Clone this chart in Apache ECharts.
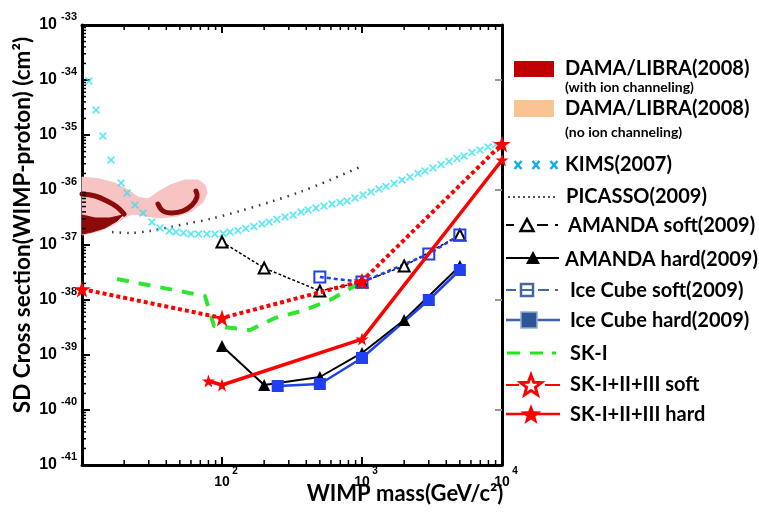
<!DOCTYPE html>
<html><head><meta charset="utf-8">
<script src="https://cdn.jsdelivr.net/npm/echarts@6/dist/echarts.min.js"></script>
<style>html,body{margin:0;padding:0;background:#fff}#c{width:759px;height:527px}</style>
</head><body><div id="c"></div><script>
// ---------- data (mass in GeV, cross section in cm^2) ----------
const X_MIN = 10, X_MAX = 10000;
// axis range 1e-41 .. 1e-33 (a hair wider so both end decades are regular ticks)
const Y_MIN = 0.99999e-41, Y_MAX = 1.00001e-33;

const kimsMass = [11.2,12.6,14.1,16.1,19.0,21.0,23.9,27.3,31.6,36.1,
  42,47,53,60,68,78,89,102,114,130,148,169,193,217,247,282,322,367,412,469,535,611,697,782,891,
  1017,1160,1323,1484,1693,1931,2202,2512,2818,3215,3667,4183,4771,5354,6107,6966,7943,9060];
const kimsSigma = [9.6e-35,2.85e-35,9.6e-36,3.51e-36,1.34e-36,8.82e-37,5.34e-37,3.82e-37,2.62e-37,2.04e-37,
  1.8e-37,1.72e-37,1.65e-37,1.585e-37,1.585e-37,1.585e-37,1.585e-37,1.62e-37,1.72e-37,1.835e-37,1.995e-37,2.17e-37,2.41e-37,2.62e-37,2.91e-37,3.23e-37,3.51e-37,3.98e-37,4.33e-37,4.71e-37,5.12e-37,5.57e-37,5.93e-37,6.31e-37,7.16e-37,
  8.11e-37,9.2e-37,1.043e-36,1.158e-36,1.313e-36,1.52e-36,1.723e-36,1.995e-36,2.215e-36,2.512e-36,2.91e-36,3.30e-36,3.74e-36,4.15e-36,4.81e-36,5.34e-36,6.05e-36,6.72e-36];

const picassoMass  = [16.4,22.0,30.6,42.5,59.1,82.1,134.5,220,361,591,967];
const picassoSigma = [1.72e-37,1.65e-37,1.80e-37,2.12e-37,2.51e-37,2.97e-37,4.15e-37,6.05e-37,9.2e-37,1.52e-36,2.62e-36];

const skIMass  = [17.8,75.6,87.7,158.5,239,391.6,591,967];
const skISigma = [2.41e-38,1.18e-38,3.37e-39,2.85e-39,4.71e-39,6.58e-39,1e-38,2.04e-38];

const amandaSoftMass  = [100,200,500,1000,2000,5000];
const amandaSoftSigma = [1.135e-37,3.82e-38,1.46e-38,2.12e-38,4.15e-38,1.52e-37];

const amandaHardMass  = [100,200,500,1000,2000,5000];
const amandaHardSigma = [1.46e-39,2.85e-40,3.98e-40,1.09e-39,4.33e-39,4.15e-38];

const iceSoftMass  = [500,1000,3000,5000];
const iceSoftSigma = [2.62e-38,2.12e-38,6.86e-38,1.52e-37];

const iceHardMass  = [250,500,1000,3000,5000];
const iceHardSigma = [2.73e-40,2.97e-40,8.82e-40,1e-38,3.51e-38];

const skSoftMass  = [10,100,1000,10000];
const skSoftSigma = [1.58e-38,4.71e-39,2.2e-38,6.86e-36];

const skHardMass  = [80,100,1000,10000];
const skHardSigma = [3.37e-40,2.85e-40,1.95e-39,3.51e-36];

// DAMA/LIBRA regions
const damaNoChanMass  = [10,13.4,17.2,21.3,25.1,29.6,34.9,42.5,54.4,67.4,75.6,78.2,73.2,61.1,48.5,36.1,28.2,23.1,20.3,17.2,13.4,10];
const damaNoChanSigma = [1.72e-36,1.58e-36,1.34e-36,1.0e-36,7.46e-37,6.86e-37,9.2e-37,1.23e-36,1.52e-36,1.52e-36,1.23e-36,8.82e-37,6.05e-37,4.15e-37,3.37e-37,3.10e-37,3.37e-37,3.66e-37,3.23e-37,2.41e-37,1.80e-37,1.52e-37];
const damaArcMass   = [10,12.4,15.1,17.8,20.0];
const damaArcSigma  = [8.46e-37,7.78e-37,6.31e-37,4.91e-37,3.66e-37];
const damaLowMass   = [10,12.4,15.8,19.6,17.8,14.6,11.8,10];
const damaLowSigma  = [3.51e-37,3.10e-37,3.10e-37,3.51e-37,2.73e-37,2.04e-37,1.72e-37,1.58e-37];
const damaRingMass  = [34.9,37.9,43.9,52.6,61.1,66.3,65.2];
const damaRingSigma = [5.57e-37,4.15e-37,3.82e-37,4.15e-37,5.34e-37,7.46e-37,9.6e-37];

// axis ticks and labels
const xMajorTicks = [10,100,1000,10000];
const xTickLabels = [100,1000,10000];
const xMinorTicks = [20,30,40,50,60,70,80,90,200,300,400,500,600,700,800,900,2000,3000,4000,5000,6000,7000,8000,9000];
const yDecades = [1e-41,1e-40,1e-39,1e-38,1e-37,1e-36,1e-35,1e-34];
const yMinorMult = [2,3,4,5,6,7,8,9];

// ---------- helpers ----------
const zip = (a, b) => a.map((v, i) => [v, b[i]]);
const expOf = v => Math.round(Math.log10(v));
const STAR = 'path://M50,0L61.8,35.1L98.1,35.1L68.8,56.7L79.4,91L50,70L20.6,91L31.2,56.7L1.9,35.1L38.2,35.1Z';
const XMARK = 'path://M0,1.5L1.5,0L5,3.5L8.5,0L10,1.5L6.5,5L10,8.5L8.5,10L5,6.5L1.5,10L0,8.5L3.5,5Z';

function regionSeries(name, mass, sigma, kind, color, width, z) {
  return {
    type: 'custom', name, coordinateSystem: 'cartesian2d', z, silent: true,
    data: [[mass[0], sigma[0]]],
    renderItem: (params, api) => {
      const pts = mass.map((m, i) => api.coord([m, sigma[i]]));
      if (kind === 'polygon') {
        return { type: 'polygon', shape: { points: pts }, style: { fill: color, stroke: color, lineWidth: 1 } };
      }
      return { type: 'polyline', shape: { points: pts, smooth: 0.4 }, style: { stroke: color, lineWidth: width, fill: null, lineCap: 'round' } };
    }
  };
}

const yMinorTicks = [];
yDecades.forEach(d => yMinorMult.forEach(k => yMinorTicks.push(k * d)));

function starPts(cx, cy, R) {
  const p = [];
  for (let i = 0; i < 10; i++) {
    const r = i % 2 ? R * 0.42 : R, a = -Math.PI / 2 + i * Math.PI / 5;
    p.push([cx + r * Math.cos(a), cy + r * Math.sin(a)]);
  }
  return p;
}
function seg(x1, y1, x2, y2, stroke, lineWidth, dash) {
  return { type: 'line', shape: { x1, y1, x2, y2 }, style: { stroke, lineWidth, lineDash: dash || null } };
}
function txt(x, y, text, size) {
  return { type: 'text', x, y, style: { text, font: 'bold ' + size + 'px Lato', fill: '#000',
    align: 'left', verticalAlign: 'middle', textAlign: 'left', textVerticalAlign: 'middle' } };
}

const LF = 20, SF = 14;
const legend = [
  { type: 'rect', shape: { x: 514, y: 61, width: 40, height: 16 }, style: { fill: '#C00000' } },
  txt(565, 69, 'DAMA/LIBRA(2008)', LF), txt(565, 87, '(with ion channeling)', SF),
  { type: 'rect', shape: { x: 514, y: 100, width: 40, height: 17 }, style: { fill: '#F9C393' } },
  txt(565, 109, 'DAMA/LIBRA(2008)', LF), txt(565, 132, '(no ion channeling)', SF),
  txt(565, 165, 'KIMS(2007)', LF),
  txt(566, 197, 'PICASSO(2009)', LF),
  txt(568, 226, 'AMANDA soft(2009)', LF),
  txt(565, 260, 'AMANDA hard(2009)', LF),
  txt(570, 291, 'Ice Cube soft(2009)', LF),
  txt(570, 321, 'Ice Cube hard(2009)', LF),
  txt(570, 354, 'SK-I', LF),
  txt(570, 385, 'SK-I+II+III soft', LF),
  txt(570, 415, 'SK-I+II+III hard', LF),
  ...[518, 536, 554].flatMap(cx => [seg(cx - 3.5, 161, cx + 3.5, 169, '#12AEE6', 2.5), seg(cx + 3.5, 161, cx - 3.5, 169, '#12AEE6', 2.5)]),
  seg(508, 197, 556, 197, '#555', 2, [2, 3]),
  seg(506, 225, 514, 225, '#000', 2), seg(537, 225, 548, 225, '#000', 2), seg(555, 225, 558, 225, '#000', 2),
  { type: 'polygon', shape: { points: [[527, 219], [533.5, 231], [520.5, 231]] }, style: { fill: '#fff', stroke: '#000', lineWidth: 2.5 } },
  seg(506, 258, 559, 258, '#000', 2),
  { type: 'polygon', shape: { points: [[533, 251], [540, 264], [526, 264]] }, style: { fill: '#000' } },
  seg(506, 290, 516, 290, '#44679F', 2), seg(520, 290, 534, 290, '#44679F', 2), seg(538, 290, 549, 290, '#44679F', 2), seg(555, 290, 558, 290, '#44679F', 2),
  { type: 'rect', shape: { x: 521, y: 284, width: 12, height: 12 }, style: { fill: 'none', stroke: '#44679F', lineWidth: 2.5 } },
  seg(506, 320, 560, 320, '#3D63A8', 2.5),
  { type: 'rect', shape: { x: 521, y: 312, width: 16, height: 16 }, style: { fill: '#2F5597', stroke: '#8FAADC', lineWidth: 1.5 } },
  seg(507, 353, 520, 353, '#1EE61E', 3), seg(530, 353, 543, 353, '#1EE61E', 3), seg(552, 353, 556, 353, '#1EE61E', 3),
  seg(506, 385, 519, 385, '#FF0000', 2), seg(545, 385, 560, 385, '#FF0000', 2),
  { type: 'polygon', shape: { points: starPts(531, 386, 11) }, style: { fill: '#fff', stroke: '#FF0000', lineWidth: 3 } },
  seg(506, 414, 560, 414, '#FF0000', 2.5),
  { type: 'polygon', shape: { points: starPts(531, 415, 11) }, style: { fill: '#FF0000' } }
];

// ---------- chart ----------
const font = 'Liberation Sans';
const chart = echarts.init(document.getElementById('c'), null, { renderer: 'canvas' });
const axisLineStyle = { show: true, onZero: false, lineStyle: { color: '#000', width: 3 } };
const validExp = v => v > 0 && isFinite(Math.log10(v)) && Math.abs(Math.log10(v) - expOf(v)) < 1e-3;

chart.setOption({
  animation: false,
  backgroundColor: '#fff',
  grid: { left: 82, right: 257, top: 25, bottom: 62, containLabel: false, outerBoundsMode: 'none' },
  xAxis: [{
    type: 'log', logBase: 10, min: X_MIN, max: X_MAX, position: 'bottom',
    axisLine: axisLineStyle,
    axisTick: { show: true, inside: true, length: 8, customValues: xMajorTicks, lineStyle: { color: '#000', width: 2 } },
    splitLine: { show: false },
    axisLabel: {
      margin: 2, customValues: xTickLabels, hideOverlap: false,
      formatter: v => '{s|' + expOf(v) + '}\n{b|10}',
      rich: {
        b: { fontFamily: font, fontWeight: 'bold', fontSize: 14, lineHeight: 14, color: '#000', padding: [0, 8, 0, 8] },
        s: { fontFamily: font, fontWeight: 'bold', fontSize: 10, lineHeight: 8, color: '#000', align: 'right' }
      }
    },
    name: 'WIMP mass(GeV/c²)', nameLocation: 'middle', nameGap: 18, nameMoveOverlap: false,
    nameTextStyle: { fontFamily: 'Lato', fontWeight: 'bold', fontSize: 22, color: '#000', padding: [0, 0, 0, 226] }
  }, {
    type: 'log', logBase: 10, min: X_MIN, max: X_MAX, position: 'top',
    axisLine: axisLineStyle,
    axisTick: { show: true, inside: true, length: 8, customValues: xMajorTicks, lineStyle: { color: '#000', width: 2 } },
    axisLabel: { show: false }, splitLine: { show: false }
  }],
  yAxis: [{
    type: 'log', logBase: 10, min: Y_MIN, max: Y_MAX, position: 'left', splitNumber: 8,
    axisLine: axisLineStyle,
    axisTick: { show: true, inside: true, length: 8, lineStyle: { color: '#000', width: 2 } },
    splitLine: { show: false },
    axisLabel: {
      margin: 5, hideOverlap: false, showMinLabel: true, showMaxLabel: true,
      formatter: v => validExp(v) ? '{s|' + expOf(v) + '}\n{b|10}' : '',
      rich: {
        b: { fontFamily: font, fontWeight: 'bold', fontSize: 16, lineHeight: 16, color: '#000', padding: [0, 20, 10, 0] },
        s: { fontFamily: font, fontWeight: 'bold', fontSize: 11, lineHeight: 10, color: '#000', align: 'right' }
      }
    },
    name: 'SD Cross section(WIMP-proton) (cm²)', nameLocation: 'middle', nameRotate: 90, nameGap: 48, nameMoveOverlap: false,
    nameTextStyle: { fontFamily: 'Lato', fontWeight: 'bold', fontSize: 22.5, color: '#000', padding: [0, 0, 0, 40] }
  }, {
    type: 'log', logBase: 100, min: Y_MIN, max: Y_MAX, position: 'right',
    axisLine: axisLineStyle,
    axisTick: { show: true, inside: true, length: 7, lineStyle: { color: '#999', width: 2 } },
    axisLabel: { show: false }, splitLine: { show: false }
  }],
  graphic: legend,
  series: [
    regionSeries('DAMA/LIBRA(2008) no ion channeling', damaNoChanMass, damaNoChanSigma, 'polygon', '#F8C3C3', 0, 1),
    regionSeries('DAMA/LIBRA(2008) with ion channeling', damaArcMass, damaArcSigma, 'line', '#8B0A0A', 5, 2),
    regionSeries('DAMA/LIBRA(2008) with ion channeling (low)', damaLowMass, damaLowSigma, 'polygon', '#8B0A0A', 0, 2),
    regionSeries('DAMA/LIBRA(2008) with ion channeling (ring)', damaRingMass, damaRingSigma, 'line', '#8B0A0A', 5, 2),
    {
      type: 'custom', name: 'minor ticks x', coordinateSystem: 'cartesian2d', silent: true, clip: false, z: 10,
      data: xMinorTicks.map(m => [m, 1e-41]),
      renderItem: (params, api) => {
        const m = api.value(0), b = api.coord([m, 1e-41]), t = api.coord([m, 1e-33]);
        return { type: 'group', children: [
          { type: 'line', shape: { x1: b[0], y1: b[1], x2: b[0], y2: b[1] - 5 }, style: { stroke: '#000', lineWidth: 1.5 } },
          { type: 'line', shape: { x1: t[0], y1: t[1], x2: t[0], y2: t[1] + 5 }, style: { stroke: '#000', lineWidth: 1.5 } }
        ] };
      }
    },
    {
      type: 'custom', name: 'minor ticks y', coordinateSystem: 'cartesian2d', silent: true, clip: false, z: 10,
      data: yMinorTicks.map(v => [X_MIN, v]),
      renderItem: (params, api) => {
        const p = api.coord([X_MIN, api.value(1)]);
        return { type: 'line', shape: { x1: p[0], y1: p[1], x2: p[0] + 4, y2: p[1] }, style: { stroke: '#000', lineWidth: 1.5 } };
      }
    },
    { type: 'scatter', name: 'KIMS(2007)', data: zip(kimsMass, kimsSigma), symbol: XMARK, symbolSize: 8,
      itemStyle: { color: '#33E3F2' }, z: 3 },
    { type: 'line', name: 'PICASSO(2009)', data: zip(picassoMass, picassoSigma), showSymbol: false, smooth: 0.3,
      lineStyle: { color: '#333', width: 2.5, type: [1.5, 6] }, z: 3 },
    { type: 'line', name: 'SK-I', data: zip(skIMass, skISigma), showSymbol: false,
      lineStyle: { color: '#2EE62E', width: 4, type: [12, 10] }, z: 4 },
    { type: 'line', name: 'AMANDA soft(2009)', data: zip(amandaSoftMass, amandaSoftSigma), symbol: 'triangle', symbolSize: 11,
      lineStyle: { color: '#000', width: 1.5, type: [3, 2] }, itemStyle: { color: '#fff', borderColor: '#000', borderWidth: 2 }, z: 5 },
    { type: 'line', name: 'Ice Cube soft(2009)', data: zip(iceSoftMass, iceSoftSigma), symbol: 'rect', symbolSize: 11,
      lineStyle: { color: '#2040F0', width: 2.5, type: [4, 3] }, itemStyle: { color: 'rgba(255,255,255,0)', borderColor: '#2040F0', borderWidth: 2 }, z: 5 },
    { type: 'line', name: 'AMANDA hard(2009)', data: zip(amandaHardMass, amandaHardSigma), symbol: 'triangle', symbolSize: 12,
      lineStyle: { color: '#000', width: 2 }, itemStyle: { color: '#000' }, z: 6 },
    { type: 'line', name: 'Ice Cube hard(2009)', data: zip(iceHardMass, iceHardSigma), symbol: 'rect', symbolSize: 12,
      lineStyle: { color: '#2040F0', width: 2.5 }, itemStyle: { color: '#2040F0' }, z: 6 },
    { type: 'line', name: 'SK-I+II+III soft', data: zip(skSoftMass, skSoftSigma), symbol: STAR, symbolSize: 17,
      lineStyle: { color: '#FF0000', width: 4, type: [4, 3] }, itemStyle: { color: '#FF0000' }, z: 7 },
    { type: 'line', name: 'SK-I+II+III hard', data: zip(skHardMass, skHardSigma), symbol: STAR, symbolSize: 13,
      lineStyle: { color: '#FF0000', width: 3.5 }, itemStyle: { color: '#FF0000' }, z: 7 }
  ]
});
</script></body></html>
